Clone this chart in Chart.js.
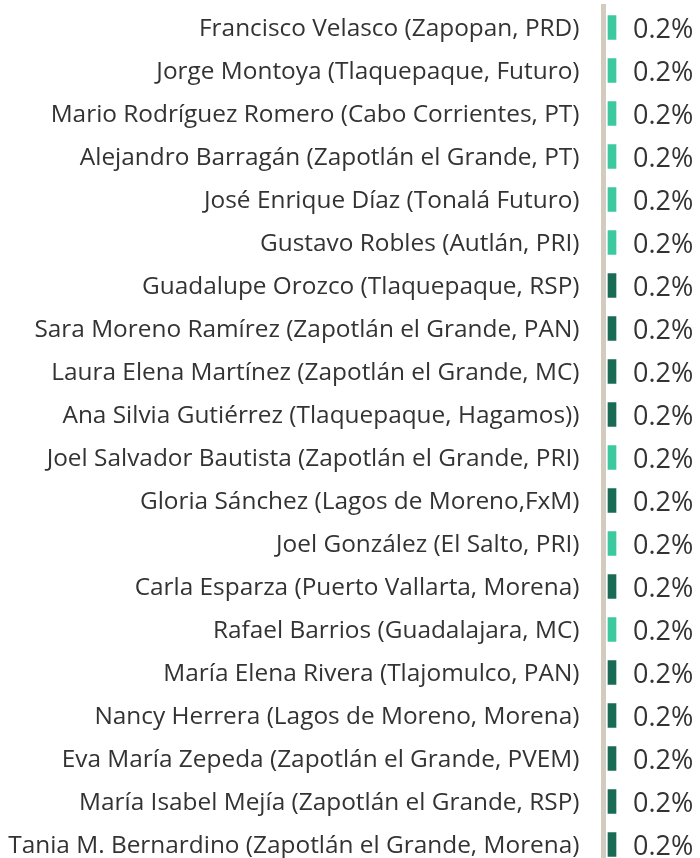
<!DOCTYPE html>
<html>
<head>
<meta charset="utf-8">
<script src="https://cdn.jsdelivr.net/npm/chart.js@4.4.1/dist/chart.umd.min.js"></script>
<style>
html,body{margin:0;padding:0;background:#fff;overflow:hidden;}
canvas{display:block;}
</style>
</head>
<body>
<canvas id="c" width="700" height="866"></canvas>
<script>
const categories = [
  "Francisco Velasco (Zapopan, PRD)",
  "Jorge Montoya (Tlaquepaque, Futuro)",
  "Mario Rodríguez Romero (Cabo Corrientes, PT)",
  "Alejandro Barragán (Zapotlán el Grande, PT)",
  "José Enrique Díaz (Tonalá Futuro)",
  "Gustavo Robles (Autlán, PRI)",
  "Guadalupe Orozco (Tlaquepaque, RSP)",
  "Sara Moreno Ramírez (Zapotlán el Grande, PAN)",
  "Laura Elena Martínez (Zapotlán el Grande, MC)",
  "Ana Silvia Gutiérrez (Tlaquepaque, Hagamos))",
  "Joel Salvador Bautista (Zapotlán el Grande, PRI)",
  "Gloria Sánchez (Lagos de Moreno,FxM)",
  "Joel González (El Salto, PRI)",
  "Carla Esparza (Puerto Vallarta, Morena)",
  "Rafael Barrios (Guadalajara, MC)",
  "María Elena Rivera (Tlajomulco, PAN)",
  "Nancy Herrera (Lagos de Moreno, Morena)",
  "Eva María Zepeda (Zapotlán el Grande, PVEM)",
  "María Isabel Mejía (Zapotlán el Grande, RSP)",
  "Tania M. Bernardino (Zapotlán el Grande, Morena)"
];
const values = [0.2,0.2,0.2,0.2,0.2,0.2,0.2,0.2,0.2,0.2,0.2,0.2,0.2,0.2,0.2,0.2,0.2,0.2,0.2,0.2];
// shade per row
const groups = ["light","light","light","light","light","light","dark","dark","dark","dark","light","dark","light","dark","light","dark","dark","dark","dark","dark"];
const valueLabels = values.map(v => v.toFixed(1) + "%");

const COLORS = {light:"#3cc9a0", dark:"#1a6b55"};

const valueLabelPlugin = {
  id:"valueLabels",
  afterDatasetsDraw(chart){
    const ctx = chart.ctx;
    const meta = chart.getDatasetMeta(0);
    ctx.save();
    ctx.font = "27px 'Open Sans'";
    ctx.fillStyle = "#333333";
    ctx.textAlign = "left";
    ctx.textBaseline = "middle";
    meta.data.forEach((bar,i)=>{
      ctx.fillText(valueLabels[i], bar.x + 17, bar.y + 3);
    });
    ctx.restore();
  }
};

new Chart(document.getElementById("c"), {
  type:"bar",
  data:{
    labels: categories,
    datasets:[{
      data: values,
      backgroundColor: groups.map(g => COLORS[g]),
      barThickness: 24,
      borderWidth: 0
    }]
  },
  options:{
    indexAxis:"y",
    responsive:false,
    animation:false,
    layout:{padding:{top:6,bottom:0,left:0,right:0}},
    plugins:{legend:{display:false}, tooltip:{enabled:false}},
    scales:{
      x:{
        display:false,
        min:-0.1125,
        max:2.3
      },
      y:{
        grid:{display:false, drawTicks:false},
        border:{display:true, color:"#d3cbc0", width:5},
        ticks:{
          color:"#333333",
          font:{family:"'Open Sans'", size:24.4},
          padding:24,
          labelOffset:2,
          autoSkip:false
        },
        afterFit(scale){
          scale.width = 603.5;
          scale.paddingTop = 0;
          scale.paddingBottom = 0;
        }
      }
    }
  },
  plugins:[valueLabelPlugin]
});
</script>
</body>
</html>
